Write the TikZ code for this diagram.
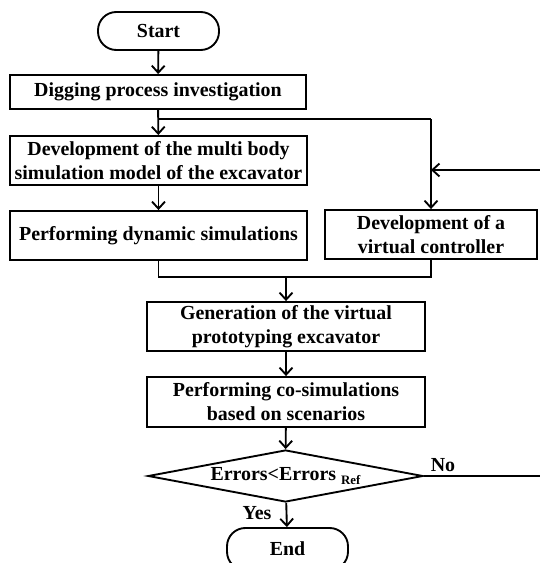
\documentclass[tikz,border=0pt]{standalone}
\usepackage{fontspec}
\setmainfont{Liberation Serif}
\usetikzlibrary{shapes.geometric,arrows.meta}

\tikzset{
  box/.style={draw, line width=1.6pt, align=center, inner sep=1pt,
    font=\fontsize{17}{20.5}\selectfont\bfseries},
  term/.style={box, rounded corners=0.55cm},
  test/.style={box, diamond, aspect=5.3, inner sep=0pt},
  flow/.style={line width=1.6pt, -{Straight Barb[length=6pt,width=11pt]}},
  wire/.style={line width=1.6pt},
  tag/.style={font=\fontsize{17}{20}\selectfont\bfseries},
}

\begin{document}
\begin{tikzpicture}[x=0.03cm, y=-0.03cm]
    \clip (0,0) rectangle (540,563);
    % blocks
    \node[term, minimum width=3.63cm, minimum height=1.14cm] (start) at (158.5,31) {Start};
    \node[box, minimum width=8.88cm, minimum height=1.02cm] (dig) at (158,92) {Digging process investigation};
    \node[box, minimum width=8.91cm, minimum height=1.47cm] (mbs) at (158.5,160.5) {Development of the multi body\\simulation model of the excavator};
    \node[box, minimum width=8.91cm, minimum height=1.47cm] (dyn) at (158.5,235.5) {Performing dynamic simulations};
    \node[box, minimum width=6.36cm, minimum height=1.47cm] (ctrl) at (431,234.5) {Development of a\\virtual controller};
    \node[box, minimum width=8.34cm, minimum height=1.47cm] (proto) at (286,326.5) {Generation of the virtual\\prototyping excavator};
    \node[box, minimum width=8.34cm, minimum height=1.5cm] (cosim) at (286,402) {Performing co-simulations\\based on scenarios};
    \node[test, minimum width=8.25cm, minimum height=1.56cm] (check) at (285.5,476) {Errors<Errors {\fontsize{11}{11}\selectfont\raisebox{-0.8ex}{Ref}}};
    \node[term, minimum width=3.63cm, minimum height=1.26cm] (end) at (287.5,549) {End};

    % junctions
    \coordinate (split) at (dig.south |- 0,119);
    \coordinate (splitR) at (ctrl.north |- 0,119);
    \coordinate (fb) at (ctrl.north |- 0,170);
    \coordinate (joinL) at (dyn.south |- 0,277);
    \coordinate (joinR) at (ctrl.south |- 0,277);
    \coordinate (joinM) at (proto.north |- 0,277);
    \coordinate (noR) at (546,476);
    \coordinate (fbR) at (546,170);

    % connectors
    \draw[flow] (start) -- (dig);
    \draw[flow] (dig) -- (mbs);
    \draw[wire] (split) -- (splitR);
    \draw[flow] (splitR) -- (ctrl);
    \draw[flow] (mbs) -- (dyn);
    \draw[wire] (dyn.south) -- (joinL) -- (joinR) -- (ctrl.south);
    \draw[flow] (joinM) -- (proto);
    \draw[flow] (proto) -- (cosim);
    \draw[flow] (cosim) -- (check);
    \draw[flow] (check) -- (end);
    \draw[wire] (check.east) -- (noR) -- (fbR);
    \draw[flow] (fbR) -- (fb);

    % labels
    \node[tag] (yes) at (257,513) {Yes};
    \node[tag] (no) at (443,465) {No};
\end{tikzpicture}
\end{document}
